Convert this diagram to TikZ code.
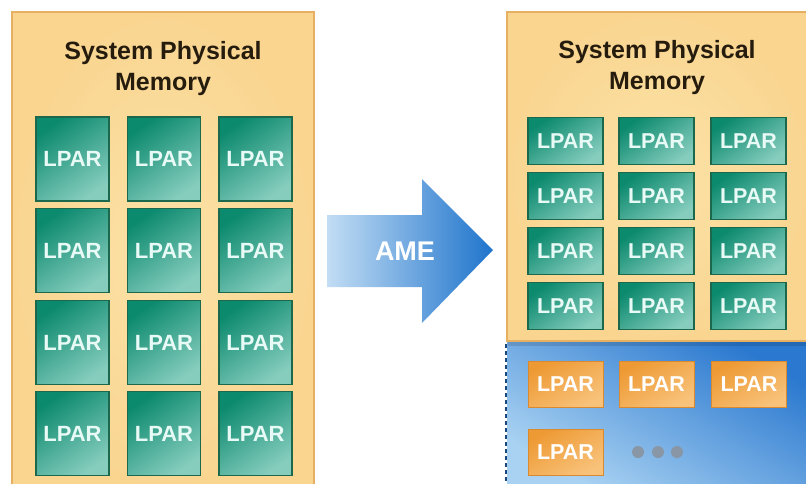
\documentclass[tikz,border=0pt]{standalone}
\usepackage{fontspec}
\setmainfont{Liberation Sans}
\usetikzlibrary{calc}
\definecolor{panelfill}{HTML}{F9D590}
\definecolor{panelin}{HTML}{FCE3A8}
\definecolor{paneledge}{HTML}{E6B062}
\definecolor{tealdark}{HTML}{0C8A6E}
\definecolor{teallight}{HTML}{86CDBE}
\definecolor{tealedge}{HTML}{1B684C}
\definecolor{orgdark}{HTML}{EE9A34}
\definecolor{orglight}{HTML}{F8C27A}
\definecolor{orgedge}{HTML}{D98A30}
\definecolor{bluedark}{HTML}{2A78CF}
\definecolor{bluelight}{HTML}{A9D2F2}
\definecolor{arrowdark}{HTML}{1F74CC}
\definecolor{arrowlight}{HTML}{C2DDF4}
\definecolor{titlecol}{HTML}{261C0E}
\definecolor{lpartext}{HTML}{E8FAF6}
\definecolor{dotcol}{HTML}{8896A6}
\tikzset{
  panelbox/.style={draw=paneledge, line width=2pt, inner color=panelin, outer color=panelfill},
  tealtile/.style={draw=tealedge, line width=1.3pt, top color=tealdark, bottom color=teallight, shading angle=35,
    text=lpartext, font=\bfseries\fontsize{22}{22}\selectfont, inner sep=0pt},
  bigtile/.style={tealtile, minimum width=73pt, minimum height=84pt},
  smalltile/.style={tealtile, minimum width=75pt, minimum height=47pt, font=\bfseries\fontsize{21.5}{21.5}\selectfont},
  orgtile/.style={draw=orgedge, line width=1pt, top color=orgdark, bottom color=orglight, shading angle=30,
    text=white, font=\bfseries\fontsize{21.5}{21.5}\selectfont, inner sep=0pt, minimum width=75pt, minimum height=46pt},
  titletext/.style={text=titlecol, font=\bfseries\fontsize{25}{31}\selectfont, align=center},
  dotnode/.style={circle, fill=dotcol, minimum size=12pt, inner sep=0pt},
}
\begin{document}
\begin{tikzpicture}[x=1pt,y=-1pt]
\useasboundingbox (0,0) rectangle (806,483);
\fill[white] (0,0) rectangle (806,483);
% left panel
\path[panelbox] (12,12) rectangle (314,490);
\node[titletext] (lt) at (163,69) {System Physical\\Memory};
\foreach \c/\x in {1/72.5,2/164,3/255.5}{
  \foreach \r/\y in {1/159,2/250.5,3/342.5,4/433.5}{
    \node[bigtile] (L\r\c) at (\x,\y) {LPAR};
  }
}
% arrow
\path[left color=arrowlight, right color=arrowdark]
  (327,215) -- (422,215) -- (422,179) -- (493,250) -- (422,323) -- (422,287) -- (327,287) -- cycle;
\node[text=white, font=\bfseries\fontsize{27}{27}\selectfont] (ame) at (405,251) {AME};
% right panel: blue area
\path[top color=bluedark, bottom color=bluelight, shading angle=-30] (507,340) rectangle (806,483);
\draw[draw=bluedark!60!black, line width=1.2pt, dash pattern=on 4pt off 3pt] (506,344) -- (506,483);
% right panel: orange
\path[panelbox] (507,12) rectangle (810,341);
\fill[black, opacity=0.12] (508,342) rectangle (806,346);
\node[titletext] (rt) at (657,68) {System Physical\\Memory};
\foreach \c/\x in {1/565.5,2/656.5,3/748.5}{
  \foreach \r/\y in {1/141,2/196,3/251,4/306}{
    \node[smalltile] (R\r\c) at (\x,\y) {LPAR};
  }
}
\foreach \c/\x in {1/565.5,2/656.5,3/749}{
  \node[orgtile] (O1\c) at (\x,384) {LPAR};
}
\node[orgtile] (O21) at (565.5,452) {LPAR};
\node[dotnode] (d1) at (638,452) {};
\node[dotnode] (d2) at (658,452) {};
\node[dotnode] (d3) at (677,452) {};
\end{tikzpicture}
\end{document}
